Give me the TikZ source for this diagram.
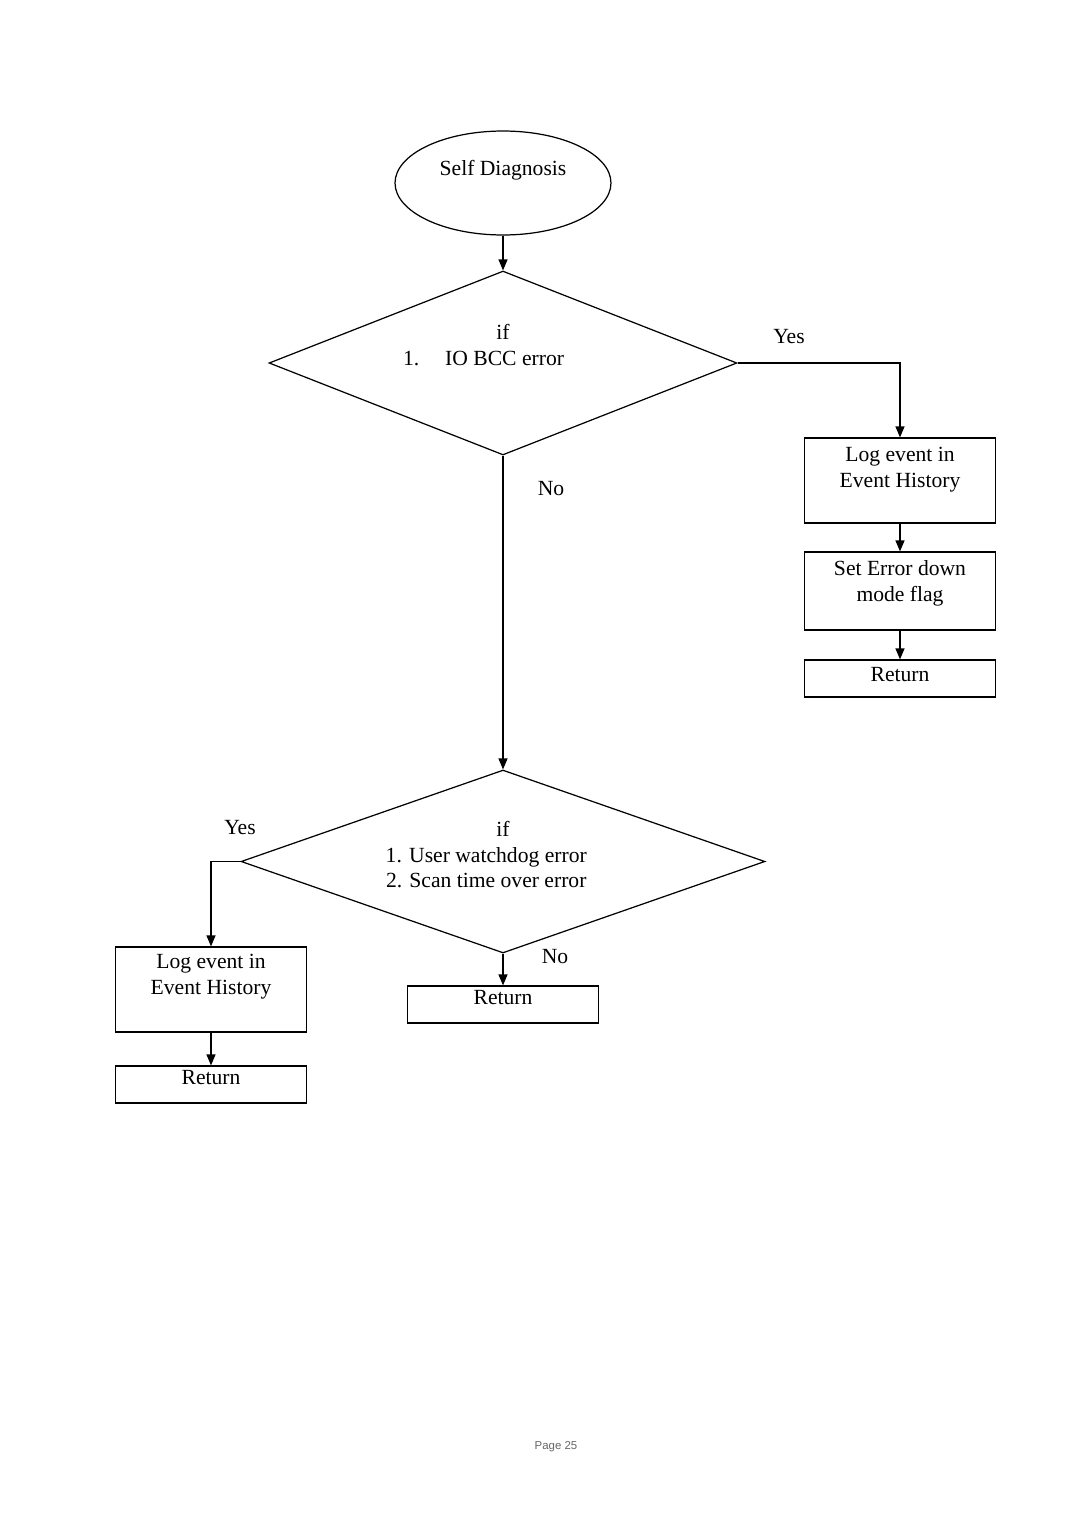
\documentclass[tikz,border=0pt]{standalone}
\usepackage{fontspec}
\setmainfont{Liberation Serif}
\newfontfamily\pagefont{Liberation Sans}
\usetikzlibrary{shapes.geometric,arrows.meta}

\tikzset{
	procbox/.style={rectangle, draw, line width=0.7pt, minimum width=3.82cm, inner sep=0pt, align=center},
	retbox/.style={procbox, minimum height=0.74cm, text depth=5pt},
	decision/.style={diamond, draw, line width=0.7pt, inner sep=0pt, align=center},
	flow/.style={-{Triangle[length=2.2mm,width=1.8mm]}, line width=0.7pt},
}

\begin{document}
\begin{tikzpicture}[x=0.02cm, y=-0.02cm, font=\fontsize{12.3}{14.7}\selectfont]
			\useasboundingbox (0,0) rectangle (1080,1525);

			\node (sd)[ellipse, draw, line width=0.7pt, minimum width=4.32cm, minimum height=2.08cm, inner sep=0pt, align=center] at (503,183) {Self Diagnosis\\[2pt]~};
			\node (if1)[decision, minimum width=9.36cm, minimum height=3.68cm, aspect=2.5] at (503,363) {if\\1.\hspace{1.2em}IO BCC error\hspace{1.8em}\mbox{}\\[5.6pt]~};
			\node (log1)[procbox, minimum height=1.7cm] at (900,480.5) {Log event in\\Event History\\~};
			\node (flag1)[procbox, minimum height=1.56cm] at (900,591) {Set Error down\\mode flag\\[-3.5pt]~};
			\node (ret1)[retbox] at (900,678.5) {Return};
			\node (if2)[decision, minimum width=10.48cm, minimum height=3.66cm, aspect=2.8] at (503,861.5) {if\\1. User watchdog error\hspace{1.55em}\mbox{}\\2. Scan time over error\hspace{1.55em}\mbox{}\\[-6.7pt]~};
			\node (ret2)[retbox, text depth=8.4pt] at (503,1004.5) {Return};
			\node (logL)[procbox, minimum height=1.7cm] at (211,989.5) {Log event in\\Event History\\[3pt]~};
			\node (retL)[retbox, text depth=8.4pt] at (211,1084.5) {Return};

			\node (yes1) at (789,337) {Yes};
			\node (no1) at (551,489) {No};
			\node (yes2) at (240,828) {Yes};
			\node (no2) at (555,957) {No};
			\node (pg)[text=black!60, font=\pagefont\fontsize{6.5}{8}\selectfont] at (556,1447) {Page 25};

			\draw [flow](sd) -- (if1);
			\draw [flow](if1.east) -| (log1.north);
			\draw [flow](log1) -- (flag1);
			\draw [flow](flag1) -- (ret1);
			\draw [flow](if1.south) -- (if2.north);
			\draw [flow](if2.west) -| (logL.north);
			\draw [flow](if2.south) -- (ret2.north);
			\draw [flow](logL) -- (retL);
		\end{tikzpicture}
\end{document}
